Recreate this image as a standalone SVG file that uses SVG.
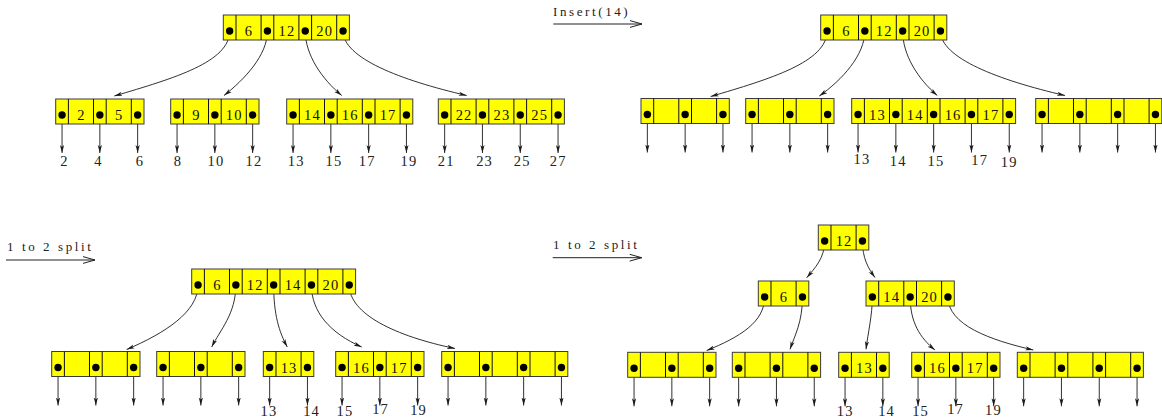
<svg xmlns="http://www.w3.org/2000/svg" xmlns:xlink="http://www.w3.org/1999/xlink" width="1162" height="419" viewBox="0 0 1162 419">
  <style>
    .cell { fill: #ffff00; stroke: #3a3a3a; stroke-width: 1; }
    .div { stroke: #111; stroke-width: 1; }
    .dot { fill: #000; }
    .key { font-family: "Liberation Serif", "DejaVu Serif", serif; font-size: 14.5px; letter-spacing: 1.2px; fill: #111; text-anchor: middle; }
    .leaf { font-family: "Liberation Serif", "DejaVu Serif", serif; font-size: 14.5px; letter-spacing: 1.2px; fill: #222; text-anchor: middle; }
    .lbl { font-family: "Liberation Serif", "DejaVu Serif", serif; font-size: 13px; letter-spacing: 2.6px; fill: #222; }
    .edge { fill: none; stroke: #1a1a1a; stroke-width: 0.9; marker-end: url(#tip); }
    .step { fill: none; stroke: #222; stroke-width: 1; }
  </style>
  <defs>
    <marker id="tip" viewBox="0 0 8 6" refX="8" refY="3" markerWidth="8" markerHeight="6" markerUnits="userSpaceOnUse" orient="auto">
      <path d="M0,0.9 L8,3 L0,5.1 L2,3 Z" fill="#1a1a1a"/>
    </marker>
    <!-- node skeletons: pointer cells 12.7 wide, key cells 25.1 wide, height 25 -->
    <g id="sk2">
      <rect class="cell" x="0" y="0" width="50.5" height="25"/>
      <path class="div" d="M12.7,0V25M37.8,0V25"/>
      <circle class="dot" cx="6.35" cy="16" r="3.7"/>
      <circle class="dot" cx="44.15" cy="16" r="3.7"/>
    </g>
    <g id="sk3">
      <rect class="cell" x="0" y="0" width="88.3" height="25"/>
      <path class="div" d="M12.7,0V25M37.8,0V25M50.5,0V25M75.6,0V25"/>
      <circle class="dot" cx="6.35" cy="16" r="3.7"/>
      <circle class="dot" cx="44.15" cy="16" r="3.7"/>
      <circle class="dot" cx="81.95" cy="16" r="3.7"/>
    </g>
    <g id="sk4">
      <rect class="cell" x="0" y="0" width="126.1" height="25"/>
      <path class="div" d="M12.7,0V25M37.8,0V25M50.5,0V25M75.6,0V25M88.3,0V25M113.4,0V25"/>
      <circle class="dot" cx="6.35" cy="16" r="3.7"/>
      <circle class="dot" cx="44.15" cy="16" r="3.7"/>
      <circle class="dot" cx="81.95" cy="16" r="3.7"/>
      <circle class="dot" cx="119.75" cy="16" r="3.7"/>
    </g>
    <g id="sk5">
      <rect class="cell" x="0" y="0" width="163.9" height="25"/>
      <path class="div" d="M12.7,0V25M37.8,0V25M50.5,0V25M75.6,0V25M88.3,0V25M113.4,0V25M126.1,0V25M151.2,0V25"/>
      <circle class="dot" cx="6.35" cy="16" r="3.7"/>
      <circle class="dot" cx="44.15" cy="16" r="3.7"/>
      <circle class="dot" cx="81.95" cy="16" r="3.7"/>
      <circle class="dot" cx="119.75" cy="16" r="3.7"/>
      <circle class="dot" cx="157.55" cy="16" r="3.7"/>
    </g>
  </defs>

  <!-- step labels -->
  <g id="step-insert">
    <text class="lbl" x="553" y="16">Insert(14)</text>
    <path class="step" d="M553.3,24H642M630,20.6L642,24L630,27.4"/>
  </g>
  <g id="step-split-1">
    <text class="lbl" x="7" y="250.5">1 to 2 split</text>
    <path class="step" d="M6,260H95M83,256.6L95,260L83,263.4"/>
  </g>
  <g id="step-split-2">
    <text class="lbl" x="553" y="248.5">1 to 2 split</text>
    <path class="step" d="M552.7,257.7H641.7M629.7,254.3L641.7,257.7L629.7,261.1"/>
  </g>

  <!-- connectors -->
  <g id="connectors">
    <!-- tree 1 -->
    <path class="edge" d="M229.65,31 C229.65,62 175,78 114.3,96"/>
    <path class="edge" d="M267.45,31 C267.45,55 245,79 224,95.5"/>
    <path class="edge" d="M305.25,31 C305.25,55 322,79 341.7,95.5"/>
    <path class="edge" d="M343.05,31 C343.05,58 400,80 466.7,95.5"/>
    <line class="edge" x1="62.05" y1="115" x2="62.05" y2="153"/>
    <line class="edge" x1="99.85" y1="115" x2="99.85" y2="153"/>
    <line class="edge" x1="137.65" y1="115" x2="137.65" y2="153"/>
    <line class="edge" x1="177.05" y1="115" x2="177.05" y2="153"/>
    <line class="edge" x1="214.85" y1="115" x2="214.85" y2="153"/>
    <line class="edge" x1="252.65" y1="115" x2="252.65" y2="153"/>
    <line class="edge" x1="293.05" y1="115" x2="293.05" y2="153"/>
    <line class="edge" x1="330.85" y1="115" x2="330.85" y2="153"/>
    <line class="edge" x1="368.65" y1="115" x2="368.65" y2="153"/>
    <line class="edge" x1="406.45" y1="115" x2="406.45" y2="153"/>
    <line class="edge" x1="444.65" y1="115" x2="444.65" y2="153"/>
    <line class="edge" x1="482.45" y1="115" x2="482.45" y2="153"/>
    <line class="edge" x1="520.25" y1="115" x2="520.25" y2="153"/>
    <line class="edge" x1="558.05" y1="115" x2="558.05" y2="153"/>
    <!-- tree 2 -->
    <path class="edge" d="M827.05,31 C827.05,62 770,79 710.7,96.5"/>
    <path class="edge" d="M864.85,31 C864.85,55 842,80 819.3,96"/>
    <path class="edge" d="M902.65,31 C902.65,55 918,79 937.3,95.5"/>
    <path class="edge" d="M940.45,31 C940.45,58 998,80 1065,95.5"/>
    <line class="edge" x1="647.35" y1="114.5" x2="647.35" y2="152.5"/>
    <line class="edge" x1="685.15" y1="114.5" x2="685.15" y2="152.5"/>
    <line class="edge" x1="722.95" y1="114.5" x2="722.95" y2="152.5"/>
    <line class="edge" x1="752.05" y1="114.5" x2="752.05" y2="152.5"/>
    <line class="edge" x1="789.85" y1="114.5" x2="789.85" y2="152.5"/>
    <line class="edge" x1="827.65" y1="114.5" x2="827.65" y2="152.5"/>
    <line class="edge" x1="858.05" y1="114.5" x2="858.05" y2="152.5"/>
    <line class="edge" x1="895.85" y1="114.5" x2="895.85" y2="152.5"/>
    <line class="edge" x1="933.65" y1="114.5" x2="933.65" y2="152.5"/>
    <line class="edge" x1="971.45" y1="114.5" x2="971.45" y2="152.5"/>
    <line class="edge" x1="1009.25" y1="114.5" x2="1009.25" y2="152.5"/>
    <line class="edge" x1="1042.05" y1="114.5" x2="1042.05" y2="152.5"/>
    <line class="edge" x1="1079.85" y1="114.5" x2="1079.85" y2="152.5"/>
    <line class="edge" x1="1117.65" y1="114.5" x2="1117.65" y2="152.5"/>
    <line class="edge" x1="1155.45" y1="114.5" x2="1155.45" y2="152.5"/>
    <!-- tree 3 -->
    <path class="edge" d="M198.05,285 C198.05,312 165,333 126.7,349.5"/>
    <path class="edge" d="M235.85,285 C235.85,314 220,330 211.7,347"/>
    <path class="edge" d="M273.65,285 C273.65,314 279,332 287.3,347"/>
    <path class="edge" d="M311.45,285 C311.45,312 330,333 361.7,347"/>
    <path class="edge" d="M349.25,285 C349.25,314 395,336 455,348.5"/>
    <line class="edge" x1="58.05" y1="367.5" x2="58.05" y2="405.5"/>
    <line class="edge" x1="95.85" y1="367.5" x2="95.85" y2="405.5"/>
    <line class="edge" x1="133.65" y1="367.5" x2="133.65" y2="405.5"/>
    <line class="edge" x1="163.05" y1="367.5" x2="163.05" y2="405.5"/>
    <line class="edge" x1="200.85" y1="367.5" x2="200.85" y2="405.5"/>
    <line class="edge" x1="238.65" y1="367.5" x2="238.65" y2="405.5"/>
    <line class="edge" x1="269.65" y1="367.5" x2="269.65" y2="405.5"/>
    <line class="edge" x1="307.45" y1="367.5" x2="307.45" y2="405.5"/>
    <line class="edge" x1="342.05" y1="367.5" x2="342.05" y2="405.5"/>
    <line class="edge" x1="379.85" y1="367.5" x2="379.85" y2="405.5"/>
    <line class="edge" x1="417.65" y1="367.5" x2="417.65" y2="405.5"/>
    <line class="edge" x1="448.05" y1="367.5" x2="448.05" y2="405.5"/>
    <line class="edge" x1="485.85" y1="367.5" x2="485.85" y2="405.5"/>
    <line class="edge" x1="523.65" y1="367.5" x2="523.65" y2="405.5"/>
    <line class="edge" x1="561.45" y1="367.5" x2="561.45" y2="405.5"/>
    <!-- tree 4 -->
    <path class="edge" d="M824.65,241 C824.65,258 815,268 806.7,277.7"/>
    <path class="edge" d="M862.45,241 C862.45,258 868,268 875,277.5"/>
    <path class="edge" d="M764.65,297 C764.65,322 740,337 706.7,350.5"/>
    <path class="edge" d="M802.45,297 C802.45,322 795,335 790,349.3"/>
    <path class="edge" d="M872.35,297 C872.35,315 868,333 866,349.3"/>
    <path class="edge" d="M910.15,297 C910.15,322 920,338 935,350"/>
    <path class="edge" d="M947.95,297 C947.95,325 990,340 1033.3,350"/>
    <line class="edge" x1="634.05" y1="368.3" x2="634.05" y2="406.3"/>
    <line class="edge" x1="671.85" y1="368.3" x2="671.85" y2="406.3"/>
    <line class="edge" x1="709.65" y1="368.3" x2="709.65" y2="406.3"/>
    <line class="edge" x1="738.65" y1="368.3" x2="738.65" y2="406.3"/>
    <line class="edge" x1="776.45" y1="368.3" x2="776.45" y2="406.3"/>
    <line class="edge" x1="814.25" y1="368.3" x2="814.25" y2="406.3"/>
    <line class="edge" x1="845.05" y1="368.3" x2="845.05" y2="406.3"/>
    <line class="edge" x1="882.85" y1="368.3" x2="882.85" y2="406.3"/>
    <line class="edge" x1="918.05" y1="368.3" x2="918.05" y2="406.3"/>
    <line class="edge" x1="955.85" y1="368.3" x2="955.85" y2="406.3"/>
    <line class="edge" x1="993.65" y1="368.3" x2="993.65" y2="406.3"/>
    <line class="edge" x1="1023.65" y1="368.3" x2="1023.65" y2="406.3"/>
    <line class="edge" x1="1061.45" y1="368.3" x2="1061.45" y2="406.3"/>
    <line class="edge" x1="1099.25" y1="368.3" x2="1099.25" y2="406.3"/>
    <line class="edge" x1="1137.05" y1="368.3" x2="1137.05" y2="406.3"/>
  </g>

  <!-- tree 1: before insertion -->
  <g id="t1-root" transform="translate(223.3,15)">
    <use xlink:href="#sk4"/>
    <text class="key" x="25.8" y="21">6</text><text class="key" x="63.6" y="21">12</text><text class="key" x="101.4" y="21">20</text>
  </g>
  <g id="t1-leaf1" transform="translate(55.7,99)">
    <use xlink:href="#sk3"/>
    <text class="key" x="25.8" y="21">2</text><text class="key" x="63.6" y="21">5</text>
  </g>
  <g id="t1-leaf2" transform="translate(170.7,99)">
    <use xlink:href="#sk3"/>
    <text class="key" x="25.8" y="21">9</text><text class="key" x="63.6" y="21">10</text>
  </g>
  <g id="t1-leaf3" transform="translate(286.7,99)">
    <use xlink:href="#sk4"/>
    <text class="key" x="25.8" y="21">14</text><text class="key" x="63.6" y="21">16</text><text class="key" x="101.4" y="21">17</text>
  </g>
  <g id="t1-leaf4" transform="translate(438.3,99)">
    <use xlink:href="#sk4"/>
    <text class="key" x="25.8" y="21">22</text><text class="key" x="63.6" y="21">23</text><text class="key" x="101.4" y="21">25</text>
  </g>
  <g id="t1-values">
    <text class="leaf" x="64.6" y="166">2</text>
    <text class="leaf" x="98.4" y="166">4</text>
    <text class="leaf" x="139.9" y="166">6</text>
    <text class="leaf" x="178.1" y="166">8</text>
    <text class="leaf" x="215.9" y="166">10</text>
    <text class="leaf" x="253.9" y="166">12</text>
    <text class="leaf" x="296.3" y="166">13</text>
    <text class="leaf" x="333.9" y="166">15</text>
    <text class="leaf" x="367.3" y="166">17</text>
    <text class="leaf" x="408.9" y="166">19</text>
    <text class="leaf" x="446.3" y="166">21</text>
    <text class="leaf" x="484.6" y="166">23</text>
    <text class="leaf" x="522.3" y="166">25</text>
    <text class="leaf" x="558.3" y="166">27</text>
  </g>

  <!-- tree 2: 14 placed in its leaf -->
  <g id="t2-root" transform="translate(820.7,15)">
    <use xlink:href="#sk4"/>
    <text class="key" x="25.8" y="21">6</text><text class="key" x="63.6" y="21">12</text><text class="key" x="101.4" y="21">20</text>
  </g>
  <g id="t2-leaf1" transform="translate(641,98.5)"><use xlink:href="#sk3"/></g>
  <g id="t2-leaf2" transform="translate(745.7,98.5)"><use xlink:href="#sk3"/></g>
  <g id="t2-leaf3" transform="translate(851.7,98.5)">
    <use xlink:href="#sk5"/>
    <text class="key" x="25.8" y="21">13</text><text class="key" x="63.6" y="21">14</text><text class="key" x="101.4" y="21">16</text><text class="key" x="139.2" y="21">17</text>
  </g>
  <g id="t2-leaf4" transform="translate(1035.7,98.5)"><use xlink:href="#sk4"/></g>
  <g id="t2-values">
    <text class="leaf" x="861.9" y="164.3">13</text>
    <text class="leaf" x="898.3" y="165.7">14</text>
    <text class="leaf" x="935.9" y="165.7">15</text>
    <text class="leaf" x="979.8" y="165.3">17</text>
    <text class="leaf" x="1009.3" y="166.7">19</text>
  </g>

  <!-- tree 3: leaf split, 14 pushed into the root -->
  <g id="t3-root" transform="translate(191.7,269)">
    <use xlink:href="#sk5"/>
    <text class="key" x="25.8" y="21">6</text><text class="key" x="63.6" y="21">12</text><text class="key" x="101.4" y="21">14</text><text class="key" x="139.2" y="21">20</text>
  </g>
  <g id="t3-leaf1" transform="translate(51.7,351.5)"><use xlink:href="#sk3"/></g>
  <g id="t3-leaf2" transform="translate(156.7,351.5)"><use xlink:href="#sk3"/></g>
  <g id="t3-leaf3" transform="translate(263.3,351.5)">
    <use xlink:href="#sk2"/>
    <text class="key" x="25.8" y="21">13</text>
  </g>
  <g id="t3-leaf4" transform="translate(335.7,351.5)">
    <use xlink:href="#sk3"/>
    <text class="key" x="25.8" y="21">16</text><text class="key" x="63.6" y="21">17</text>
  </g>
  <g id="t3-leaf5" transform="translate(441.7,351.5)"><use xlink:href="#sk4"/></g>
  <g id="t3-values">
    <text class="leaf" x="268.9" y="415.6">13</text>
    <text class="leaf" x="311.6" y="415.6">14</text>
    <text class="leaf" x="344.9" y="415.6">15</text>
    <text class="leaf" x="380.6" y="413.5">17</text>
    <text class="leaf" x="418.6" y="414.5">19</text>
  </g>

  <!-- tree 4: root split, new root 12 -->
  <g id="t4-root" transform="translate(818.3,225)">
    <use xlink:href="#sk2"/>
    <text class="key" x="25.8" y="21">12</text>
  </g>
  <g id="t4-left" transform="translate(758.3,281)">
    <use xlink:href="#sk2"/>
    <text class="key" x="25.8" y="21">6</text>
  </g>
  <g id="t4-right" transform="translate(866,281)">
    <use xlink:href="#sk3"/>
    <text class="key" x="25.8" y="21">14</text><text class="key" x="63.6" y="21">20</text>
  </g>
  <g id="t4-leaf1" transform="translate(627.7,352.3)"><use xlink:href="#sk3"/></g>
  <g id="t4-leaf2" transform="translate(732.3,352.3)"><use xlink:href="#sk3"/></g>
  <g id="t4-leaf3" transform="translate(838.7,352.3)">
    <use xlink:href="#sk2"/>
    <text class="key" x="25.8" y="21">13</text>
  </g>
  <g id="t4-leaf4" transform="translate(911.7,352.3)">
    <use xlink:href="#sk3"/>
    <text class="key" x="25.8" y="21">16</text><text class="key" x="63.6" y="21">17</text>
  </g>
  <g id="t4-leaf5" transform="translate(1017.3,352.3)"><use xlink:href="#sk4"/></g>
  <g id="t4-values">
    <text class="leaf" x="845.3" y="415.7">13</text>
    <text class="leaf" x="886.6" y="415.7">14</text>
    <text class="leaf" x="920.6" y="415.7">15</text>
    <text class="leaf" x="955.6" y="413.5">17</text>
    <text class="leaf" x="993.4" y="414.8">19</text>
  </g>
</svg>
